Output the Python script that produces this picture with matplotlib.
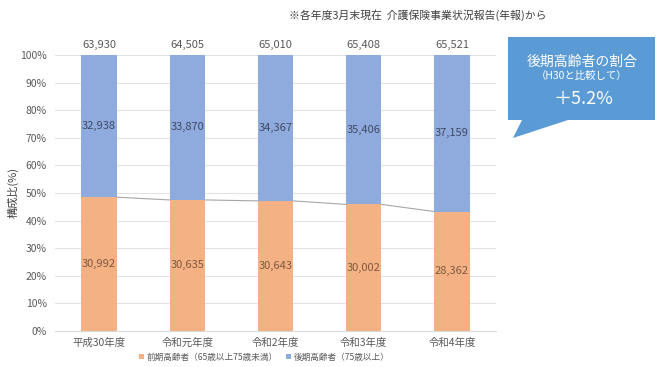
import matplotlib
matplotlib.use("Agg")
import matplotlib.pyplot as plt
from matplotlib.patches import Polygon
import numpy as np

plt.rcParams['font.family'] = ['Noto Sans CJK JP', 'DejaVu Sans']

categories = ["平成30年度", "令和元年度", "令和2年度", "令和3年度", "令和4年度"]
early = [30992, 30635, 30643, 30002, 28362]   # 前期高齢者
late = [32938, 33870, 34367, 35406, 37159]    # 後期高齢者
totals = [63930, 64505, 65010, 65408, 65521]
series_names = ["前期高齢者（65歳以上75歳未満）", "後期高齢者（75歳以上）"]
yticks = [0, 10, 20, 30, 40, 50, 60, 70, 80, 90, 100]
note = "※各年度3月末現在  介護保険事業状況報告(年報)から"
callout_lines = ["後期高齢者の割合", "（H30と比較して）", "＋5.2%"]

W, H = 665, 367
fig = plt.figure(figsize=(W / 100, H / 100), dpi=100)

def fx(px):
    return px / W

def fy(py):
    return 1 - py / H

ax = fig.add_axes([fx(55), fy(331), fx(496) - fx(55), fy(55) - fy(331)])

orange = "#F4B183"
blue = "#8FAADC"
txt = "#595959"

x = np.arange(len(categories))
e_pct = np.array(early) / np.array(totals) * 100
l_pct = np.array(late) / np.array(totals) * 100
bw = 0.4

ax.bar(x, e_pct, width=bw, color=orange, label=series_names[0], zorder=3)
ax.bar(x, l_pct, width=bw, bottom=e_pct, color=blue, label=series_names[1], zorder=3)

# series lines
for i in range(len(x) - 1):
    ax.plot([x[i] + bw / 2, x[i + 1] - bw / 2], [e_pct[i], e_pct[i + 1]],
            color="#A6A6A6", lw=0.8, zorder=2)

for i in range(len(x)):
    ax.text(x[i], e_pct[i] / 2, f"{early[i]:,}", ha="center", va="center",
            fontsize=8, color="#7F5A3F", zorder=4)
    ax.text(x[i], e_pct[i] + l_pct[i] / 2, f"{late[i]:,}", ha="center", va="center",
            fontsize=8, color="#3F4A66", zorder=4)
    ax.text(x[i], 103.5, f"{totals[i]:,}", ha="center", va="center",
            fontsize=8, color=txt)

ax.set_xlim(-0.5, len(x) - 0.5)
ax.set_ylim(0, 100)
ax.set_yticks(yticks)
ax.set_yticklabels([f"{v}%" for v in yticks])
ax.set_xticks(x)
ax.set_xticklabels(categories)
ax.tick_params(axis="both", length=0, labelsize=7.5, colors=txt)
ax.tick_params(axis="y", pad=6)
ax.tick_params(axis="x", pad=5)
ax.grid(axis="y", color="#E3E3E3", lw=0.8, zorder=0)
for s in ["top", "right", "left"]:
    ax.spines[s].set_visible(False)
ax.spines["bottom"].set_color("#D9D9D9")
fig.text(fx(13), fy(193), "構成比(%)", rotation=90, ha="center", va="center",
         fontsize=8, color="#404040")

leg = fig.legend(loc="center", bbox_to_anchor=(fx(264), fy(357)), ncol=2,
                 frameon=False, fontsize=6.2, handlelength=0.6, handleheight=0.6,
                 columnspacing=1.0, handletextpad=0.3)
for t in leg.get_texts():
    t.set_color(txt)

fig.text(fx(418), fy(15), note, ha="center", va="center", fontsize=7.8, color="#404040")

# callout
pts = [(508, 37), (655, 37), (655, 120), (568, 120), (513, 138), (522, 120), (508, 120)]
poly = Polygon([(fx(a), fy(b)) for a, b in pts], closed=True, transform=fig.transFigure,
               facecolor="#5B9BD5", edgecolor="none")
fig.patches.append(poly)
fig.text(fx(582), fy(62), callout_lines[0], ha="center", va="center", fontsize=10, color="white")
fig.text(fx(582), fy(76), callout_lines[1], ha="center", va="center", fontsize=7.5, color="white")
fig.text(fx(583), fy(99), callout_lines[2], ha="center", va="center", fontsize=13, color="white")

fig.savefig("out.png", dpi=100)
